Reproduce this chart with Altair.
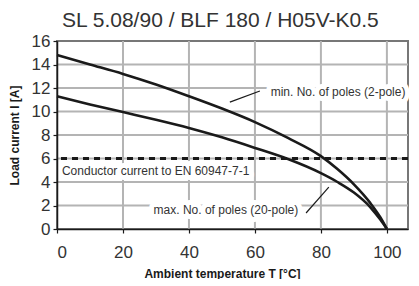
import altair as alt
import pandas as pd

# ---- data ----
temps = [0, 10, 20, 30, 40, 50, 60, 70, 80, 85, 90, 95, 98, 100]
min_poles = [14.8, 14.0, 13.2, 12.3, 11.3, 10.25, 9.1, 7.75, 6.2, 5.1, 3.8, 2.2, 1.0, 0.0]
max_poles = [11.3, 10.6, 9.95, 9.3, 8.6, 7.8, 6.9, 5.95, 4.75, 4.0, 3.1, 1.85, 0.8, 0.0]
conductor_current = [6]

x_ticks = [0, 20, 40, 60, 80, 100]
y_ticks = [0, 2, 4, 6, 8, 10, 12, 14, 16]
grid_x = [20, 40, 60, 80, 100]
grid_y = [2, 4, 6, 8, 10, 12, 14]

labels = ["min. No. of poles (2-pole)", "max. No. of poles (20-pole)", "Conductor current to EN 60947-7-1"]
label_x = [85.2, 51.2, 1.5]
label_y = [11.66, 1.6, 4.95]
label_align = ["center", "center", "left"]
ptr_x = [52.4, 75.5]
ptr_y = [10.8, 1.36]
ptr_x2 = [61.5, 82.4]
ptr_y2 = [11.75, 3.57]

FONT = "Liberation Sans"
INK = "#1a1a1a"
GRID = "#b4b4b4"

curves = pd.DataFrame({
    "T": temps * 2,
    "I": min_poles + max_poles,
    "series": ["min"] * len(temps) + ["max"] * len(temps),
})
ann = pd.DataFrame({"text": labels, "x": label_x, "y": label_y, "align": label_align})
ptrs = pd.DataFrame({"x": ptr_x, "y": ptr_y, "x2": ptr_x2, "y2": ptr_y2})
cond = pd.DataFrame({"I": conductor_current})
gx = pd.DataFrame({"gxv": grid_x})
gy = pd.DataFrame({"gyv": grid_y})

xscale = alt.Scale(domain=[0, 106.4], nice=False, zero=False)
yscale = alt.Scale(domain=[0, 16], nice=False)

axis_style = dict(
    grid=False, labelOverlap=False, zindex=1,
    domainColor=INK, domainWidth=1.5, tickColor=INK, tickSize=4, tickWidth=1.2,
    labelFont=FONT, labelFontSize=17, labelColor="#333",
    titleFont=FONT, titleFontSize=12, titleFontWeight="bold", titleColor=INK,
)
xaxis = alt.Axis(values=x_ticks, title="Ambient temperature T [°C]", titleX=165,
                 titleAlign="center", labelPadding=11, titlePadding=8, **axis_style)
yaxis = alt.Axis(values=y_ticks, title="Load current I [A]", labelPadding=3, titlePadding=10, **axis_style)


def X(field):
    return alt.X(field, type="quantitative", scale=xscale, axis=xaxis)


def Y(field):
    return alt.Y(field, type="quantitative", scale=yscale, axis=yaxis)


gridx_layer = alt.Chart(gx).mark_rule(stroke=GRID, strokeWidth=2, opacity=1).encode(x=X("gxv"))
gridy_layer = alt.Chart(gy).mark_rule(stroke=GRID, strokeWidth=2, opacity=1).encode(y=Y("gyv"))

line_layer = alt.Chart(curves).mark_line(color=INK, strokeWidth=2.6, interpolate="monotone").encode(
    x=X("T"), y=Y("I"), detail="series:N",
)

cond_layer = alt.Chart(cond).mark_rule(color=INK, strokeWidth=3, strokeDash=[6, 5]).encode(
    y=Y("I"),
)


def text_layers(align):
    sub = ann[ann["align"] == align]
    halo = alt.Chart(sub).mark_text(
        font=FONT, fontSize=12, color="white", stroke="white", strokeWidth=10,
        strokeJoin="round", align=align, baseline="middle").encode(
        x=X("x"), y=Y("y"), text="text:N")
    txt = alt.Chart(sub).mark_text(
        font=FONT, fontSize=12, color="#333", align=align, baseline="middle").encode(
        x=X("x"), y=Y("y"), text="text:N")
    return halo, txt


halo_l, text_l = text_layers("left")
halo_c, text_c = text_layers("center")

ptr_layer = alt.Chart(ptrs).mark_rule(color=INK, strokeWidth=1.2).encode(
    x=X("x"), y=Y("y"), x2="x2", y2="y2",
)

chart = alt.layer(gridx_layer, gridy_layer, halo_l, halo_c, line_layer, cond_layer,
                  text_l, text_c, ptr_layer).properties(
    width=351, height=188, padding={"left": 0, "top": 2, "right": 0, "bottom": 0},
    title=alt.TitleParams("SL 5.08/90 / BLF 180 / H05V-K0.5", anchor="start", frame="group", dx=5,
                          font=FONT, fontSize=21, fontWeight="normal", color="#333", offset=1),
).configure_view(stroke="#777777", strokeWidth=2)

chart.save("out.html", embed_options={"renderer": "svg", "actions": False})
